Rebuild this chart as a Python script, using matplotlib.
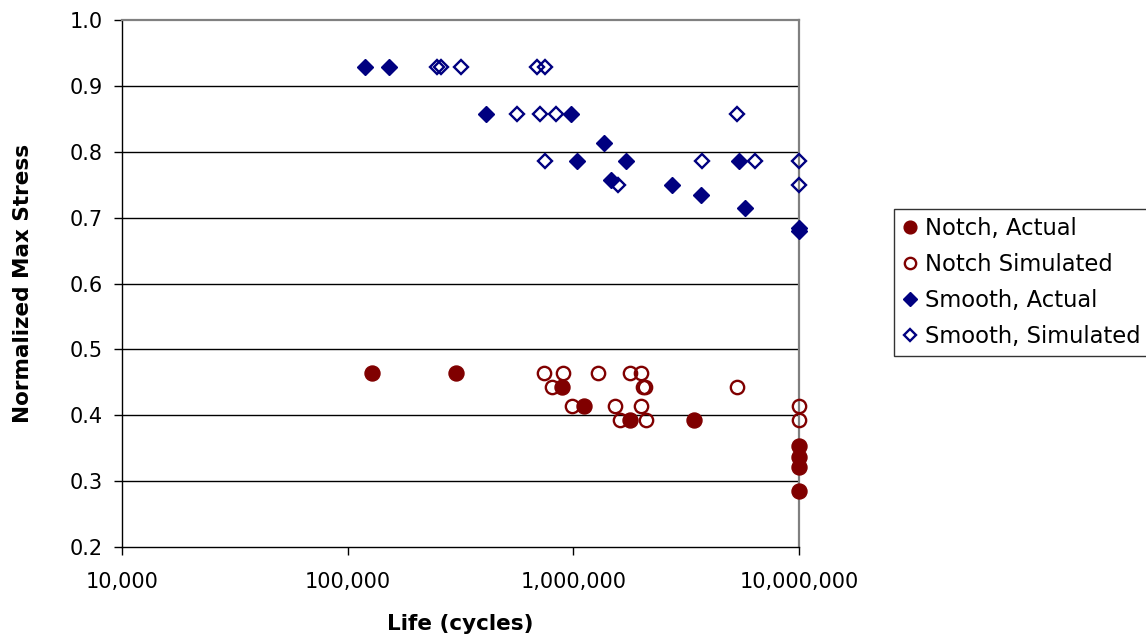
#!/usr/bin/env python3
"""S-N style scatter: normalized max stress vs. life, notch / smooth specimens."""

import matplotlib
matplotlib.use("Agg")
import matplotlib.pyplot as plt
from matplotlib.ticker import FixedLocator, FuncFormatter, NullLocator

plt.rcParams["font.family"] = ["DejaVu Sans"]

# --- data (life in cycles, normalized stress) ---
notch_actual_life = [127700, 302000, 893000, 1115000, 1777000, 3418000,
                     10000000, 10000000, 10000000, 10000000]
notch_actual_stress = [0.464, 0.464, 0.443, 0.414, 0.393, 0.393,
                       0.353, 0.337, 0.322, 0.285]

notch_sim_life = [740000, 902000, 1283000, 1789000, 1997000,
                  806000, 2038000, 2088000, 5302000,
                  982000, 1523000, 2003000, 10000000,
                  1615000, 2109000, 10000000]
notch_sim_stress = [0.464, 0.464, 0.464, 0.464, 0.464,
                    0.443, 0.443, 0.443, 0.443,
                    0.414, 0.414, 0.414, 0.414,
                    0.393, 0.393, 0.393]

smooth_actual_life = [118800, 153000, 409000, 976000, 1364000, 1034000,
                      1717000, 5449000, 1472000, 2745000, 3675000, 5776000,
                      10000000, 10000000]
smooth_actual_stress = [0.929, 0.929, 0.857, 0.857, 0.814, 0.786,
                        0.786, 0.786, 0.757, 0.75, 0.735, 0.714,
                        0.685, 0.68]

smooth_sim_life = [249000, 258000, 317000, 693000, 752000,
                   562000, 715000, 834000, 5317000,
                   747000, 3735000, 6357000, 10000000,
                   1577000, 10000000]
smooth_sim_stress = [0.929, 0.929, 0.929, 0.929, 0.929,
                     0.857, 0.857, 0.857, 0.857,
                     0.786, 0.786, 0.786, 0.786,
                     0.75, 0.75]

x_ticks = [1e4, 1e5, 1e6, 1e7]
y_ticks = [0.2, 0.3, 0.4, 0.5, 0.6, 0.7, 0.8, 0.9, 1.0]

RED = "#800000"
NAVY = "#000080"


def main():
    fig = plt.figure(figsize=(11.46, 6.41), dpi=100)
    ax = fig.add_axes([122 / 1146, 94 / 641, 677 / 1146, 527 / 641])

    ax.set_xscale("log")
    ax.set_xlim(1e4, 1e7)
    ax.set_ylim(0.2, 1.0)

    for y in y_ticks[1:-1]:
        ax.axhline(y, color="black", lw=1.0, zorder=1)

    kw = dict(linestyle="none", clip_on=False, zorder=3)
    ax.plot(notch_actual_life, notch_actual_stress, marker="o", ms=10.8,
            mfc=RED, mec=RED, mew=1.0, label="Notch, Actual", **kw)
    ax.plot(notch_sim_life, notch_sim_stress, marker="o", ms=9.6,
            mfc="none", mec=RED, mew=1.7, label="Notch Simulated", **kw)
    ax.plot(smooth_actual_life, smooth_actual_stress, marker="D", ms=7.8,
            mfc=NAVY, mec=NAVY, mew=1.0, label="Smooth, Actual", **kw)
    ax.plot(smooth_sim_life, smooth_sim_stress, marker="D", ms=6.9,
            mfc="none", mec=NAVY, mew=1.7, label="Smooth, Simulated", **kw)

    for side in ("top", "right"):
        ax.spines[side].set_color("#808080")
        ax.spines[side].set_linewidth(1.6)
    for side in ("left", "bottom"):
        ax.spines[side].set_color("black")
        ax.spines[side].set_linewidth(1.0)

    ax.xaxis.set_major_locator(FixedLocator(x_ticks))
    ax.xaxis.set_minor_locator(NullLocator())
    ax.xaxis.set_major_formatter(FuncFormatter(lambda v, p: f"{int(round(v)):,}"))
    ax.yaxis.set_major_locator(FixedLocator(y_ticks))
    ax.yaxis.set_major_formatter(FuncFormatter(lambda v, p: f"{v:.1f}"))

    ax.tick_params(axis="both", direction="out", length=5.8, width=1.0,
                   labelsize=15, color="black")
    ax.tick_params(axis="x", pad=12)
    ax.tick_params(axis="y", pad=8)

    ax.set_xlabel("Life (cycles)", fontsize=15.5, fontweight="bold")
    ax.set_ylabel("Normalized Max Stress", fontsize=15.5, fontweight="bold")
    ax.xaxis.set_label_coords(0.5, -0.127)
    ax.yaxis.set_label_coords(-0.132, 0.5)

    leg = fig.legend(loc="upper left", bbox_to_anchor=(894 / 1146, 1 - 209 / 641),
                     fontsize=16.3, frameon=True, fancybox=False, markerscale=0.85,
                     handlelength=0.7, handletextpad=0.3, borderpad=0.35,
                     labelspacing=0.58, borderaxespad=0.0)
    leg.get_frame().set_edgecolor("black")
    leg.get_frame().set_linewidth(1.0)

    fig.savefig("out.png", dpi=100)
    plt.close(fig)


if __name__ == "__main__":
    main()
